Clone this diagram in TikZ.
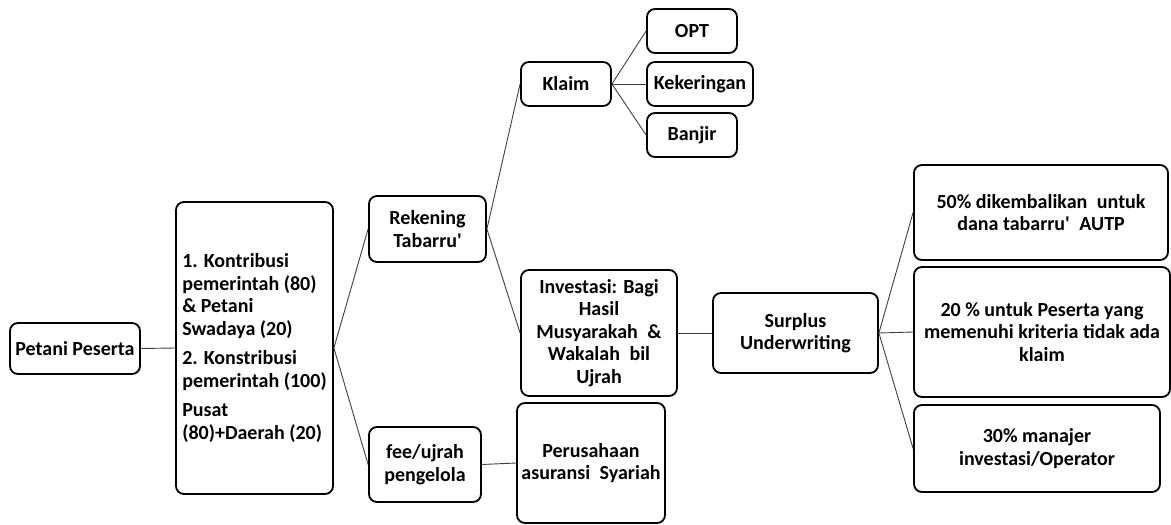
\documentclass[tikz,border=0pt]{standalone}
\usepackage{fontspec}
\setmainfont{Carlito}
\newcommand{\sq}{\textquotesingle}
\newcommand{\wsp}{\hspace{0.25em}}
\begin{document}
\begin{tikzpicture}[x=1pt,y=-1pt,
  box/.style={draw=black,line width=1.8pt,rounded corners=8pt,inner sep=2pt,
    font=\fontsize{20}{22.5}\selectfont\bfseries,align=center},
  conn/.style={draw=black!75,line width=0.9pt}]
\useasboundingbox (0,0) rectangle (1171,525);
\fill[white] (0,0) rectangle (1171,525);
% boxes: centre at ((l+r)/2,(t+b)/2), size (r-l) x (b-t)
\node[box,minimum width=130pt,minimum height=51pt] (petani) at (75,348.5) {Petani Peserta};
\node[box,minimum width=157pt,minimum height=292pt,align=left] (main) at (254.5,348)
  {1. Kontribusi\\pemerintah (80)\\\& Petani\\Swadaya (20)\\[7pt]2. Konstribusi\\pemerintah (100)\\[7pt]Pusat\\(80)+Daerah (20)};
\node[box,minimum width=117pt,minimum height=66pt] (reken) at (427.5,229) {Rekening\\Tabarru\sq};
\node[box,minimum width=112pt,minimum height=75pt] (fee) at (425,464.5) {fee/ujrah\\pengelola};
\node[box,minimum width=90pt,minimum height=44pt] (klaim) at (566,84) {Klaim};
\node[box,minimum width=90pt,minimum height=44pt] (opt) at (692,31) {OPT};
\node[box,minimum width=106pt,minimum height=44pt] (kek) at (700,84) {Kekeringan};
\node[box,minimum width=90pt,minimum height=44pt] (banjir) at (692,135) {Banjir};
\node[box,minimum width=156pt,minimum height=126pt] (invest) at (599,333)
  {Investasi: Bagi\\Hasil\\Musyarakah\wsp{} \&\\Wakalah\wsp{} bil\\Ujrah};
\node[box,minimum width=148pt,minimum height=120pt] (perus) at (591,463) {Perusahaan\\asuransi\wsp{} Syariah};
\node[box,minimum width=165pt,minimum height=80pt] (surplus) at (795.5,333) {Surplus\\Underwriting};
\node[box,minimum width=254pt,minimum height=95pt] (p50) at (1041,212.5) {50\% dikembalikan\wsp{} untuk\\dana tabarru\sq{}\wsp{} AUTP};
\node[box,minimum width=256pt,minimum height=130pt] (p20) at (1042,332) {20 \% untuk Peserta yang\\memenuhi kriteria tidak ada\\klaim};
\node[box,minimum width=246pt,minimum height=87pt] (p30) at (1037,448.5) {30\% manajer\\investasi/Operator};
% connectors
\draw[conn] (petani.east) -- (main.west);
\draw[conn] (main.east) -- (reken.west);
\draw[conn] (main.east) -- (fee.west);
\draw[conn] (reken.east) -- (klaim.west);
\draw[conn] (reken.east) -- (invest.west);
\draw[conn] (klaim.east) -- (opt.west);
\draw[conn] (klaim.east) -- (kek.west);
\draw[conn] (klaim.east) -- (banjir.west);
\draw[conn] (invest.east) -- (surplus.west);
\draw[conn] (fee.east) -- (perus.west);
\draw[conn] (surplus.east) -- (p50.west);
\draw[conn] (surplus.east) -- (p20.west);
\draw[conn] (surplus.east) -- (p30.west);
\end{tikzpicture}
\end{document}
